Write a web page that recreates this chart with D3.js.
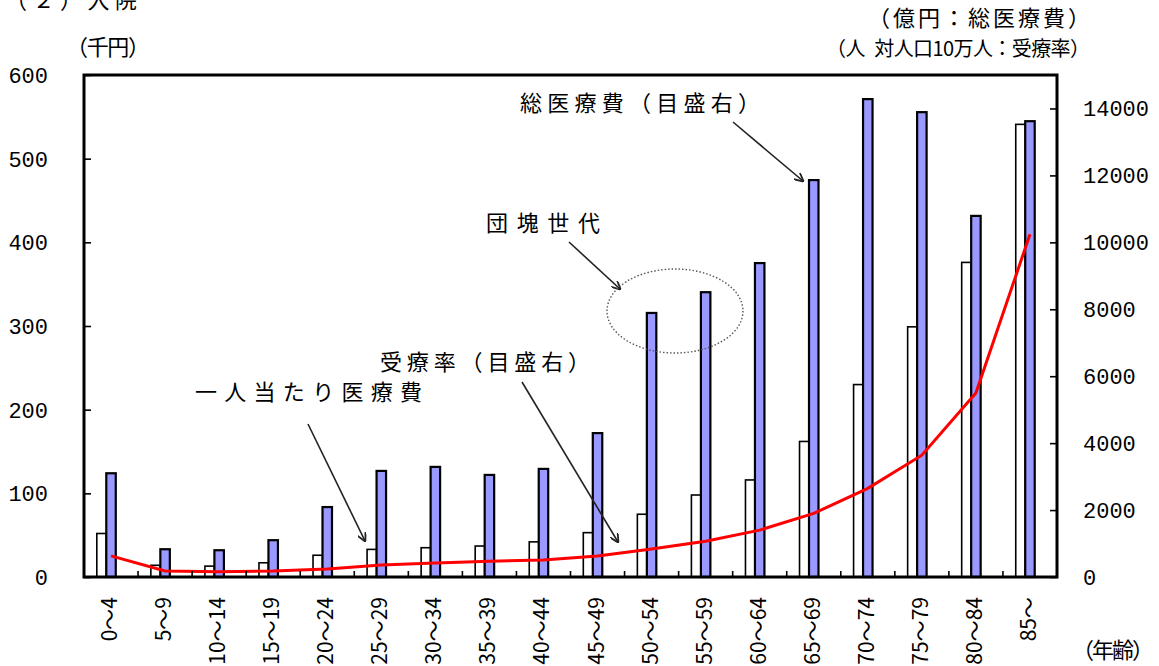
<!DOCTYPE html>
<html><head><meta charset="utf-8">
<script src="https://cdn.jsdelivr.net/npm/d3@7"></script>
<style>
body{margin:0;background:#fff;}
svg{display:block;}
text{white-space:pre;}
</style></head>
<body>
<svg id="chart" width="1159" height="666"></svg>
<script>
const categories = ["0～4","5～9","10～14","15～19","20～24","25～29","30～34","35～39","40～44","45～49","50～54","55～59","60～64","65～69","70～74","75～79","80～84","85～"];
const perCapita = [52,14,13,17,26,33,35,37,42,53,75,98,116,162,230,299,376,541];      // 千円 (left)
const totalCost = [3100,830,800,1100,2090,3170,3290,3050,3230,4300,7890,8510,9380,11860,14280,13890,10790,13620]; // 億円 (right)
const rate = [630,180,160,180,240,360,420,470,510,630,840,1070,1400,1900,2650,3640,5500,10240]; // 受療率 (right)
const leftTicks = [0,100,200,300,400,500,600];
const rightTicks = [0,2000,4000,6000,8000,10000,12000,14000];

const svg = d3.select("#chart");
const L = 84, R = 1057, T = 75, B = 577;
const jp = "'Noto Sans CJK JP', 'Noto Sans', sans-serif";
const num = "'Liberation Mono', 'DejaVu Sans Mono', monospace";

const x = d3.scaleBand().domain(categories).range([L, R]).padding(0);
const inner = d3.scaleBand().domain(["per","total","pad"]).range([0, x.bandwidth()]).paddingInner(0).paddingOuter(1.35);
const yL = d3.scaleLinear().domain([0, 600]).range([B, T]);
const yR = d3.scaleLinear().domain([0, 15000]).range([B, T]);

const data = categories.map((c, i) => ({c, per: perCapita[i], total: totalCost[i], rate: rate[i]}));

// bars: per-capita (white)
svg.append("g").selectAll("rect").data(data).join("rect")
  .attr("x", d => x(d.c) + inner("per"))
  .attr("y", d => yL(d.per))
  .attr("width", inner.bandwidth())
  .attr("height", d => B - yL(d.per))
  .attr("fill", "#ffffff").attr("stroke", "#000").attr("stroke-width", 1.6);

// bars: total (blue)
svg.append("g").selectAll("rect").data(data).join("rect")
  .attr("x", d => x(d.c) + inner("total"))
  .attr("y", d => yR(d.total))
  .attr("width", inner.bandwidth())
  .attr("height", d => B - yR(d.total))
  .attr("fill", "#9999ff").attr("stroke", "#000").attr("stroke-width", 2.2);

// line: rate
const line = d3.line()
  .x(d => x(d.c) + inner("total") + inner.bandwidth() / 2)
  .y(d => yR(d.rate));
svg.append("path").datum(data).attr("d", line)
  .attr("fill", "none").attr("stroke", "#ff0000").attr("stroke-width", 3);

// frame
svg.append("rect").attr("x", L).attr("y", T).attr("width", R - L).attr("height", B - T)
  .attr("fill", "none").attr("stroke", "#000").attr("stroke-width", 3);

// left axis (inner ticks)
const axL = svg.append("g").attr("transform", `translate(${L},0)`)
  .call(d3.axisRight(yL).tickValues(leftTicks).tickSize(7).tickFormat(""));
axL.select(".domain").remove();
axL.selectAll("line").attr("stroke-width", 1.6);
svg.append("g").selectAll("text").data(leftTicks).join("text")
  .attr("x", 48).attr("y", d => yL(d)).attr("dy", "0.36em")
  .attr("text-anchor", "end").attr("font-family", num).attr("font-size", 22)
  .text(d => d);

// right axis (inner ticks)
const axR = svg.append("g").attr("transform", `translate(${R},0)`)
  .call(d3.axisLeft(yR).tickValues(rightTicks).tickSize(7).tickFormat(""));
axR.select(".domain").remove();
axR.selectAll("line").attr("stroke-width", 1.6);
svg.append("g").selectAll("text").data(rightTicks).join("text")
  .attr("x", 1083).attr("y", d => yR(d)).attr("dy", "0.36em")
  .attr("text-anchor", "start").attr("font-family", num).attr("font-size", 22)
  .text(d => d);

// bottom ticks at category boundaries (inner)
const bounds = categories.slice(1).map(c => x(c));
svg.append("g").selectAll("line").data(bounds).join("line")
  .attr("x1", d => d).attr("x2", d => d).attr("y1", B).attr("y2", B - 6)
  .attr("stroke", "#000").attr("stroke-width", 1.6);

// x labels rotated
svg.append("g").selectAll("text").data(categories).join("text")
  .attr("transform", d => `translate(${x(d) + x.bandwidth() / 2 + 6},597) rotate(-90)`)
  .attr("text-anchor", "end").attr("font-family", jp).attr("font-size", 21)
  .text(d => d);

// texts
function txt(s, x0, x1, cy, size) {
  svg.append("text").attr("x", x0).attr("y", cy).attr("dy", "0.36em")
    .attr("font-family", jp).attr("font-size", size || 22)
    .attr("textLength", x1 - x0).attr("lengthAdjust", "spacing")
    .text(s);
}
txt("（２）入院", 5, 137, 0);
txt("（千円）", 66, 150, 47);
txt("（億円：総医療費）", 868, 1090, 18);
txt("（人\u2002対人口10万人：受療率）", 826, 1090, 49, 20);
txt("総医療費（目盛右）", 520, 760, 103);
txt("団塊世代", 486, 600, 223);
txt("受療率（目盛右）", 380, 590, 362);
txt("一人当たり医療費", 195, 422, 392);
txt("（年齢）", 1072, 1154, 650);

// arrows
const defs = svg.append("defs");
defs.append("marker").attr("id", "ah").attr("viewBox", "0 0 10 10")
  .attr("refX", 9).attr("refY", 5).attr("markerWidth", 9).attr("markerHeight", 9)
  .attr("markerUnits", "userSpaceOnUse").attr("orient", "auto")
  .append("path").attr("d", "M0,0 L10,5 L0,10").attr("fill", "none").attr("stroke", "#222").attr("stroke-width", 2);
const arrows = [
  [733, 122, 803, 181],
  [569, 242, 620, 289],
  [522, 382, 618, 542],
  [308, 424, 365, 541]
];
svg.append("g").selectAll("line").data(arrows).join("line")
  .attr("x1", d => d[0]).attr("y1", d => d[1]).attr("x2", d => d[2]).attr("y2", d => d[3])
  .attr("stroke", "#222").attr("stroke-width", 1.6).attr("marker-end", "url(#ah)");

// dotted ellipse
svg.append("ellipse").attr("cx", 675).attr("cy", 311).attr("rx", 68).attr("ry", 42)
  .attr("fill", "none").attr("stroke", "#555").attr("stroke-width", 1.4).attr("stroke-dasharray", "1.5,2");
</script>
</body></html>
